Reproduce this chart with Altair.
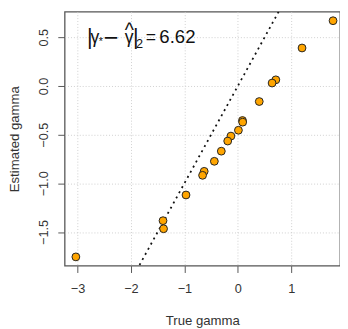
import altair as alt
import pandas as pd

true_gamma = [1.78, 1.20, 0.71, 0.64, 0.40, 0.086, 0.09, 0.01, -0.13, -0.19,
              -0.31, -0.44, -0.63, -0.66, -0.97, -1.40, -1.39, -3.03]
est_gamma = [0.67, 0.39, 0.063, 0.03, -0.16, -0.355, -0.372, -0.455, -0.515, -0.566,
             -0.67, -0.774, -0.877, -0.918, -1.12, -1.384, -1.467, -1.756]
ref_line = [-3.0, 2.0]
x_ticks = [-3, -2, -1, 0, 1]
y_ticks = [-1.5, -1.0, -0.5, 0.0, 0.5]
norm_value = "6.62"

pts = pd.DataFrame({"x": true_gamma, "y": est_gamma})
line_df = pd.DataFrame({"x": ref_line, "y": ref_line})
anchor = pd.DataFrame({"x": [-2.82], "y": [0.5]})

xs = alt.Scale(domain=[-3.24, 1.91], nice=False, zero=False)
ys = alt.Scale(domain=[-1.846, 0.762], nice=False, zero=False)

FONT = "Liberation Sans"
xax = alt.Axis(values=x_ticks, title="True gamma", format="~g", grid=True,
               gridDash=[1, 2], gridColor="#cfcfcf", domain=False,
               tickSize=7, tickColor="#555", labelPadding=10, labelFontSize=13,
               labelColor="#333", titleFontSize=13.5, titleColor="#333",
               titleFontWeight="normal", titlePadding=19, labelFont=FONT,
               titleFont=FONT)
yax = alt.Axis(values=y_ticks, title="Estimated gamma", format=".1f", grid=True,
               gridDash=[1, 2], gridColor="#cfcfcf", domain=False,
               tickSize=7, tickColor="#555", labelAngle=-90, labelAlign="center",
               labelBaseline="bottom", labelPadding=8, labelFontSize=13,
               labelColor="#333", titleFontSize=13.5, titleColor="#333",
               titleFontWeight="normal", titlePadding=16, labelFont=FONT,
               titleFont=FONT)

line = alt.Chart(line_df).mark_line(color="#111", strokeDash=[2, 4], strokeWidth=1.8,
                                    clip=True).encode(
    x=alt.X("x:Q", scale=xs, axis=xax), y=alt.Y("y:Q", scale=ys, axis=yax))

points = alt.Chart(pts).mark_point(filled=True, fill="#FFA500", stroke="#222",
                                   strokeWidth=1, size=64, opacity=1, shape="circle").encode(
    x=alt.X("x:Q", scale=xs), y=alt.Y("y:Q", scale=ys))

# formula pieces: (text, fontSize, dx, dy)
pieces = [
    ("|", 22, 0, 6.5),
    ("γ", 18, 3.5, 6),
    ("*", 11, 12, 8),
    ("−", 26, 17, 9),
    ("γ", 18, 38.5, 6),
    ("^", 20, 38.5, 0),
    ("|", 22, 47, 6.5),
    ("2", 13, 50, 11),
    ("=", 18, 60, 6),
    (norm_value, 19, 74, 6),
]
layers = [line, points]
for t, fs, dx, dy in pieces:
    layers.append(
        alt.Chart(anchor).mark_text(align="left", baseline="alphabetic", fontSize=fs,
                                    font=FONT, color="#111", dx=dx, dy=dy, text=t).encode(
            x=alt.X("x:Q", scale=xs), y=alt.Y("y:Q", scale=ys))
    )

chart = alt.layer(*layers).properties(
    width=282, height=260,
    autosize=alt.AutoSizeParams(type="none"),
    padding={"left": 58, "top": 0, "right": 0, "bottom": 61},
    background="white",
).configure_view(stroke="#555", strokeWidth=1.3)

chart.save("out.html", embed_options={"renderer": "svg", "actions": False})
